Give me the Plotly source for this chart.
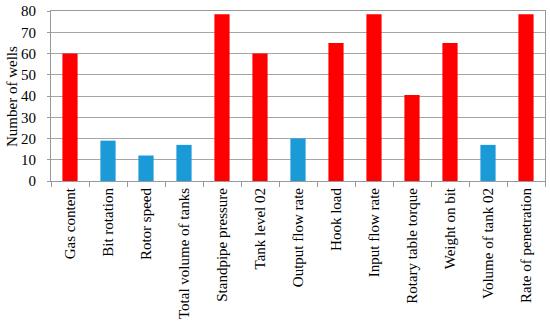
import plotly.graph_objects as go

categories = ["Gas content", "Bit rotation", "Rotor speed", "Total volume of tanks",
              "Standpipe pressure", "Tank level 02", "Output flow rate", "Hook load",
              "Input flow rate", "Rotary table torque", "Weight on bit", "Volume of tank 02",
              "Rate of penetration"]
wells = [60, 19, 12, 17, 78.5, 60, 20, 65, 78.5, 40.5, 65, 17, 78.5]
is_red = [True, False, False, False, True, True, False, True, True, True, True, False, True]
y_title = "Number of wells"

colors = ["#FF0000" if r else "#1B9AD8" for r in is_red]

fig = go.Figure(go.Bar(x=categories, y=wells, marker_color=colors, marker_line_width=0))

serif = "Liberation Serif"
fig.update_layout(
    width=550, height=325,
    margin=dict(l=51, r=5, t=11, b=144),
    plot_bgcolor="white", paper_bgcolor="white",
    bargap=0.6, showlegend=False,
    font=dict(family=serif, size=14, color="black"),
)
fig.update_xaxes(
    automargin=False,
    tickangle=-90, tickson="boundaries", ticks="outside", ticklen=5,
    tickcolor="#999999", showline=True, linecolor="#999999", mirror=True,
    tickfont=dict(family=serif, size=15),
)
fig.update_yaxes(
    automargin=False, ticklabeloverflow="allow", ticklabelstandoff=8,
    range=[0, 80], dtick=10, showgrid=True, gridcolor="#A6A6A6",
    ticks="outside", ticklen=3, tickcolor="#999999",
    showline=True, linecolor="#999999", mirror=True, zeroline=False,
    tickfont=dict(family=serif, size=15),
)
# y title as annotation so it can sit a bit closer to the tick labels
fig.add_annotation(text=y_title, textangle=-90, xref="paper", yref="paper",
                   x=-0.079, y=0.5, xanchor="center", yanchor="middle",
                   showarrow=False, font=dict(family=serif, size=15))
# remove the browser's default body margin so the figure sits at the page corner
fig.write_html("out.html", config={"displayModeBar": False},
               post_script="document.body.style.margin='0';")
